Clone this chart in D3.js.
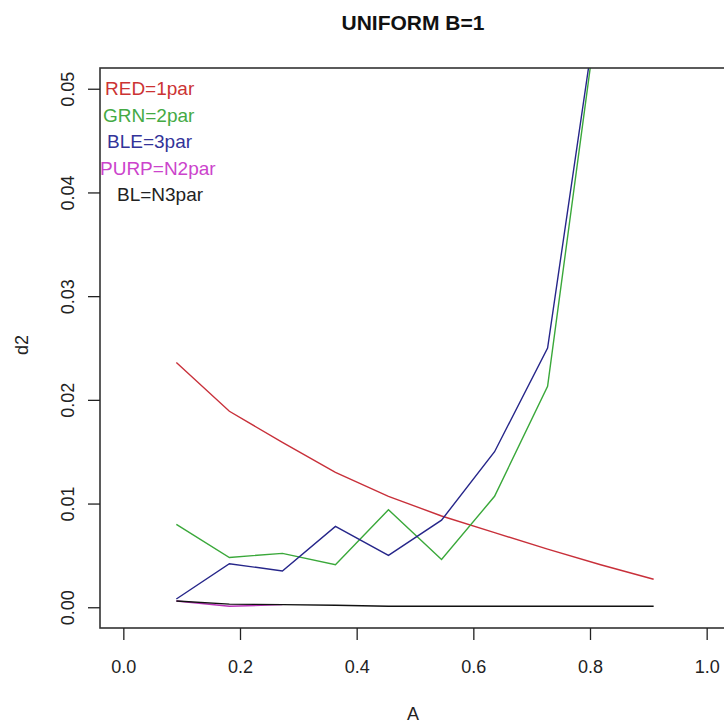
<!DOCTYPE html>
<html>
<head>
<meta charset="utf-8">
<script src="https://cdn.jsdelivr.net/npm/d3@7"></script>
<style>
  body { margin: 0; background: #fff; }
  svg { display: block; font-family: "Liberation Sans", Arial, sans-serif; }
  .tick text { fill: #222; font-size: 18px; }
  .tick line { stroke: #222; stroke-width: 1.3; }
</style>
</head>
<body>
<div id="chart"></div>
<script>
// values
const aValues = [0.0909, 0.1818, 0.2727, 0.3636, 0.4545, 0.5455, 0.6364, 0.7273, 0.8182, 0.9091]
const red1par = [0.0236, 0.0189, 0.0159, 0.0130, 0.0107, 0.0088, 0.0072, 0.0056, 0.0041, 0.0027]
const grn2par = [0.0080, 0.0048, 0.0052, 0.0041, 0.0094, 0.0046, 0.0107, 0.0213, 0.0595, 0.1000]
const ble3par = [0.0008, 0.0042, 0.0035, 0.0078, 0.0050, 0.0084, 0.0150, 0.0250, 0.0600, 0.1000]
const purpN2par = [0.0006, 0.0001, 0.00025]
const blN3par = [0.0006, 0.0003, 0.00025, 0.0002, 0.0001, 0.0001, 0.0001, 0.0001, 0.0001, 0.0001]
const xTicks = [0, 0.2, 0.4, 0.6, 0.8, 1.0]
const yTicks = [0, 0.01, 0.02, 0.03, 0.04, 0.05]
const legendLabels = ["RED=1par", "GRN=2par", "BLE=3par", "PURP=N2par", "BL=N3par"]

const width = 724
const height = 724
const box = {left: 100, right: 730, top: 68, bottom: 628}

// draw order: purple first so black covers it
const series = [
    {values: red1par, color: "#c8303a"},
    {values: grn2par, color: "#3aa83a"},
    {values: ble3par, color: "#26268a"},
    {values: purpN2par, color: "#b832b8"},
    {values: blN3par, color: "#111111"},
]
const legendColors = ["#cc3333", "#44aa44", "#333399", "#cc44cc", "#222222"]
const legendX = [105, 103, 107, 100, 117]

const xScale = d3.scaleLinear()
    .domain([-0.04, 1.04])
    .range([box.left, box.right])

const yScale = d3.scaleLinear()
    .domain([-0.002, 0.052])
    .range([box.bottom, box.top])

const $svg = d3.select("#chart").append("svg")
    .attr("width", width)
    .attr("height", height)

$svg.append("clipPath")
    .attr("id", "plot-clip")
    .append("rect")
    .attr("x", box.left)
    .attr("y", box.top)
    .attr("width", box.right - box.left)
    .attr("height", box.bottom - box.top)

const line = d3.line()
    .x(d => xScale(d[0]))
    .y(d => yScale(d[1]))

$svg.append("g")
    .attr("clip-path", "url(#plot-clip)")
    .selectAll("path")
    .data(series)
    .enter().append("path")
    .attr("d", s => line(s.values.map((v, i) => [aValues[i], v])))
    .attr("fill", "none")
    .attr("stroke", s => s.color)
    .attr("stroke-width", 1.4)

//box round the plot region
$svg.append("rect")
    .attr("x", box.left)
    .attr("y", box.top)
    .attr("width", box.right - box.left)
    .attr("height", box.bottom - box.top)
    .attr("fill", "none")
    .attr("stroke", "#333")
    .attr("stroke-width", 1.6)

const xAxis = g => g.attr("transform", `translate(0, ${box.bottom})`)
    .call(d3.axisBottom(xScale).tickValues(xTicks).tickFormat(d3.format(".1f")).tickSize(12))
    .call(g => g.select(".domain").remove())
    .call(g => g.selectAll("text").attr("dy", null).attr("y", 45).attr("font-family", null).attr("font-size", null))

const yAxis = g => g.attr("transform", `translate(${box.left}, 0)`)
    .call(d3.axisLeft(yScale).tickValues(yTicks).tickFormat(d3.format(".2f")).tickSize(12))
    .call(g => g.select(".domain").remove())
    .call(g => g.selectAll("text")
        .attr("x", null).attr("dy", null)
        .attr("text-anchor", "middle")
        .attr("transform", "translate(-26,0) rotate(-90)")
        .attr("font-family", null).attr("font-size", null))

$svg.append("g").call(xAxis)
$svg.append("g").call(yAxis)

$svg.append("text")
    .attr("x", (box.left + box.right) / 2 - 2)
    .attr("y", 30)
    .attr("text-anchor", "middle")
    .attr("font-weight", "bold")
    .attr("font-size", 21)
    .attr("fill", "#111")
    .text("UNIFORM B=1")

$svg.append("text")
    .attr("x", 413)
    .attr("y", 720)
    .attr("text-anchor", "middle")
    .attr("font-size", 18)
    .attr("fill", "#222")
    .text("A")

$svg.append("text")
    .attr("transform", "translate(28, 345) rotate(-90)")
    .attr("text-anchor", "middle")
    .attr("font-size", 18)
    .attr("fill", "#222")
    .text("d2")

$svg.selectAll("text.legend")
    .data(legendLabels)
    .enter().append("text")
    .attr("class", "legend")
    .attr("x", (d, i) => legendX[i])
    .attr("y", (d, i) => 95 + i * 26.5)
    .attr("font-size", 19)
    .attr("fill", (d, i) => legendColors[i])
    .text(d => d)
</script>
</body>
</html>
